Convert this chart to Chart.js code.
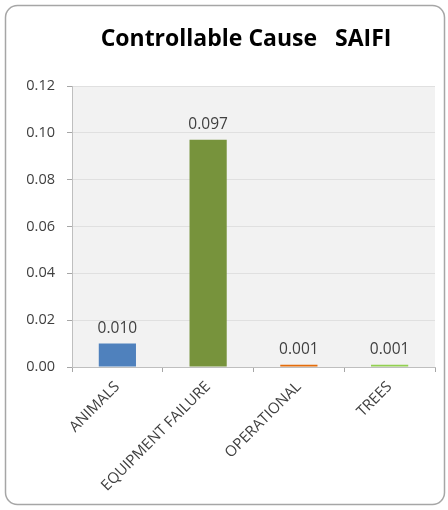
<!DOCTYPE html>
<html>
<head>
<meta charset="utf-8">
<script src="https://cdn.jsdelivr.net/npm/chart.js@4/dist/chart.umd.min.js"></script>
<style>
  html, body { margin: 0; padding: 0; background: #ffffff; }
  #wrap { width: 448px; height: 510px; position: relative; }
</style>
</head>
<body>
<div id="wrap"><canvas id="c" width="448" height="510"></canvas></div>
<script>
// Controllable cause SAIFI values per cause category
const categories = ['ANIMALS', 'EQUIPMENT FAILURE', 'OPERATIONAL', 'TREES'];
const saifiValues = [0.010, 0.097, 0.001, 0.001];
const barColors = ['#4f81bd', '#77933c', '#e46c0a', '#92d050'];
const yTicks = [0, 0.02, 0.04, 0.06, 0.08, 0.10, 0.12];
const chartTitle = 'Controllable Cause   SAIFI';

const FONT = '"Open Sans", Lato, "DejaVu Sans", sans-serif';

// Frame, plot background, title and value labels
const decor = {
  id: 'decor',
  beforeDraw(chart) {
    const ctx = chart.ctx;
    const a = chart.chartArea;
    ctx.save();
    ctx.fillStyle = '#ffffff';
    ctx.fillRect(0, 0, chart.width, chart.height);
    // rounded outer frame
    const x = 5.5, y = 5.5, w = 439, h = 499, r = 12;
    ctx.beginPath();
    ctx.moveTo(x + r, y);
    ctx.lineTo(x + w - r, y);
    ctx.arcTo(x + w, y, x + w, y + r, r);
    ctx.lineTo(x + w, y + h - r);
    ctx.arcTo(x + w, y + h, x + w - r, y + h, r);
    ctx.lineTo(x + r, y + h);
    ctx.arcTo(x, y + h, x, y + h - r, r);
    ctx.lineTo(x, y + r);
    ctx.arcTo(x, y, x + r, y, r);
    ctx.closePath();
    ctx.strokeStyle = '#a6a6a6';
    ctx.lineWidth = 1.5;
    ctx.stroke();
    // plot background
    ctx.fillStyle = '#f2f2f2';
    ctx.fillRect(a.left, a.top, a.right - a.left, a.bottom - a.top);
    // title
    ctx.fillStyle = '#000000';
    ctx.font = 'bold 23px ' + FONT;
    ctx.textAlign = 'center';
    ctx.textBaseline = 'middle';
    ctx.fillText(chartTitle, 246, 39);
    ctx.restore();
  },
  afterDatasetsDraw(chart) {
    const ctx = chart.ctx;
    const meta = chart.getDatasetMeta(0);
    const data = chart.data.datasets[0].data;
    ctx.save();
    ctx.fillStyle = '#404040';
    ctx.font = '15.5px ' + FONT;
    ctx.textAlign = 'center';
    ctx.textBaseline = 'alphabetic';
    meta.data.forEach((bar, i) => {
      ctx.fillText(data[i].toFixed(3), bar.x, bar.y - 11);
    });
    ctx.restore();
  }
};

new Chart(document.getElementById('c'), {
  type: 'bar',
  data: {
    labels: categories,
    datasets: [{
      data: saifiValues,
      backgroundColor: barColors,
      borderWidth: 0,
      barPercentage: 0.41,
      categoryPercentage: 1.0
    }]
  },
  options: {
    responsive: false,
    animation: false,
    devicePixelRatio: 1,
    layout: { padding: { top: 86, left: 0, right: 13, bottom: 0 } },
    plugins: {
      legend: { display: false },
      title: { display: false },
      tooltip: { enabled: false }
    },
    scales: {
      x: {
        grid: {
          offset: true,
          drawOnChartArea: false,
          drawTicks: true,
          tickLength: 5,
          tickColor: '#a6a6a6'
        },
        border: { color: '#bfbfbf', width: 1 },
        ticks: {
          color: '#404040',
          font: { family: FONT, size: 15 },
          minRotation: 45,
          maxRotation: 45,
          autoSkip: false,
          padding: 6
        },
        afterFit(scale) {
          scale.height = 143;
          scale.paddingLeft = 0;
          scale.paddingRight = 0;
        }
      },
      y: {
        min: 0,
        max: 0.12,
        afterBuildTicks(scale) {
          scale.ticks = yTicks.map(v => ({ value: v }));
        },
        grid: {
          color: '#e0e0e0',
          tickColor: '#a6a6a6',
          tickLength: 5,
          drawTicks: true
        },
        border: { color: '#bfbfbf', width: 1 },
        ticks: {
          color: '#404040',
          font: { family: FONT, size: 14.5 },
          padding: 12,
          callback: v => Number(v).toFixed(2)
        },
        afterFit(scale) {
          scale.width = 72;
        }
      }
    }
  },
  plugins: [decor]
});
</script>
</body>
</html>
